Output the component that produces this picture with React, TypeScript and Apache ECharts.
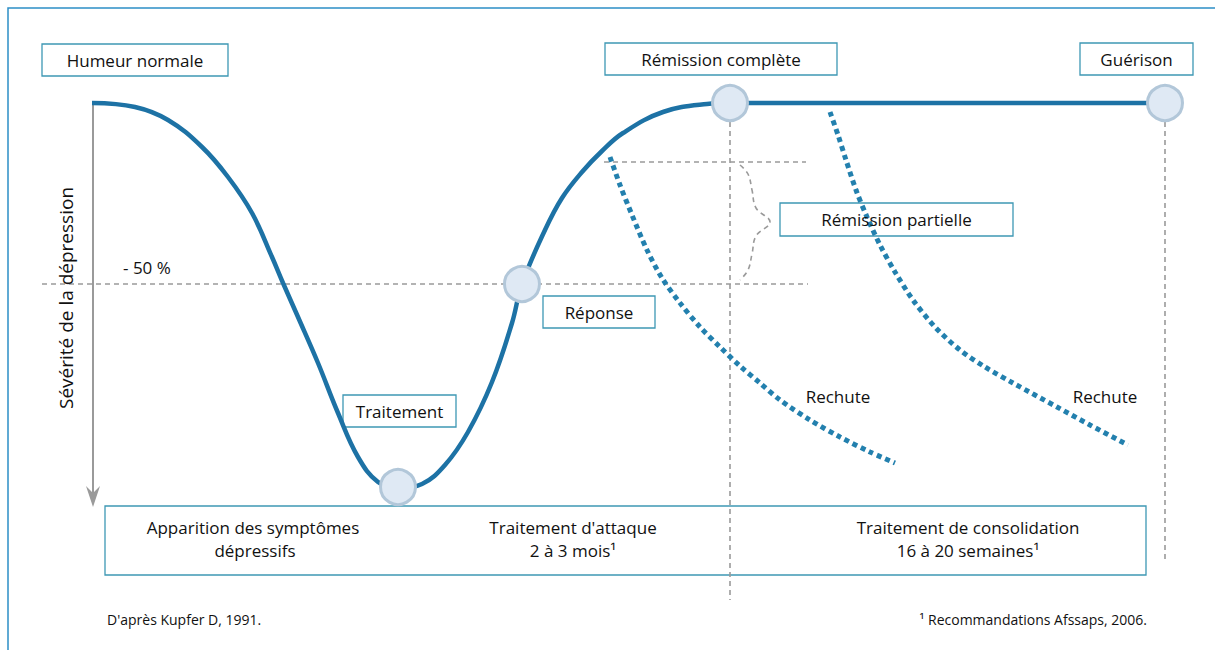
import React, { useEffect, useRef } from "react";
import * as echarts from "echarts";

// ---- Data (diagram coordinates: x 0..1215, y 0..650 top-down) ----
const severityCurve: [number, number][] = [
  [92, 103], [135, 107], [168, 120], [202, 147], [228, 177], [252, 213],
  [272, 257], [283, 283], [298, 317], [318, 363], [338, 413], [358, 457],
  [378, 482], [398, 488], [422, 484], [445, 465], [468, 432], [492, 382],
  [512, 323], [522, 284], [545, 230], [562, 198], [582, 172], [602, 151],
  [623, 133], [663, 112], [707, 104], [730, 103],
];
const plateau: [number, number][] = [[730, 103], [1165, 103]];
const relapseEarly: [number, number][] = [
  [610, 157], [620, 185], [632, 215], [647, 250], [662, 278], [680, 303],
  [700, 327], [720, 347], [740, 366], [760, 383], [780, 400], [810, 420],
  [840, 437], [870, 452], [895, 463],
];
const relapseLate: [number, number][] = [
  [830, 112], [838, 135], [846, 160], [856, 190], [867, 217], [880, 245],
  [895, 272], [913, 300], [935, 327], [960, 350], [985, 367], [1013, 383],
  [1057, 407], [1090, 425], [1128, 445],
];
const milestones: [number, number][] = [[398, 487], [522, 284], [730, 103], [1165, 103]];
const halfLine: [number, number][] = [[42, 284], [808, 284]];
const partialTop: [number, number][] = [[604, 162], [806, 162]];
const remissionVertical: [number, number][] = [[730, 122], [730, 600]];
const recoveryVertical: [number, number][] = [[1165, 122], [1165, 560]];
const brace: [number, number][] = [
  [740, 165], [748, 174], [752, 190], [756, 208], [770, 222],
  [756, 236], [752, 254], [748, 270], [740, 280],
];

const FONT = "'Open Sans', 'Noto Sans', sans-serif";
const BOX = "#3e98b4";
const GRAY = "#9a9a9a";
const INK = "#111111";

function box(x: number, y: number, w: number, h: number, text: string, size = 17): any[] {
  return [
    { type: "rect", shape: { x, y, width: w, height: h }, style: { fill: "none", stroke: BOX, lineWidth: 1.3 }, z: 1 },
    {
      type: "text", x: x + w / 2, y: y + h / 2, z: 5,
      style: { text, fill: INK, font: `${size}px ${FONT}`, textAlign: "center", textVerticalAlign: "middle" },
    },
  ];
}
function txt(x: number, y: number, text: string, size = 17, align = "center"): any {
  return {
    type: "text", x, y, z: 5,
    style: { text, fill: INK, font: `${size}px ${FONT}`, textAlign: align, textVerticalAlign: "middle" },
  };
}

export default function App() {
  const ref = useRef<HTMLDivElement>(null);
  useEffect(() => {
    document.body.style.margin = "0";
    const chart = echarts.init(ref.current!, null, { renderer: "svg" });
    const dashed = (data: [number, number][]) => ({
      type: "line", data, symbol: "none", silent: true, z: 2,
      lineStyle: { color: GRAY, width: 1.6, type: [5, 4] },
    });
    const dotted = (data: [number, number][]) => ({
      type: "line", data, symbol: "none", smooth: 0.3, silent: true, z: 3,
      lineStyle: { color: "#2380ae", width: 5, type: [5, 4], cap: "butt" },
    });
    chart.setOption({
      animation: false,
      backgroundColor: "#ffffff",
      grid: { left: 0, right: 0, top: 0, bottom: 0 },
      xAxis: { type: "value", min: 0, max: 1215, show: false },
      yAxis: { type: "value", min: 0, max: 650, inverse: true, show: false },
      series: [
        dashed(halfLine),
        dashed(partialTop),
        dashed(remissionVertical),
        dashed(recoveryVertical),
        { ...dashed(brace), smooth: 0.4 },
        dotted(relapseEarly),
        dotted(relapseLate),
        {
          type: "line", data: severityCurve, symbol: "none", smooth: 0.4, silent: true, z: 4,
          lineStyle: { color: "#1d72a5", width: 4.5 },
        },
        {
          type: "line", data: plateau, symbol: "none", silent: true, z: 4,
          lineStyle: { color: "#1d72a5", width: 4.5 },
        },
        {
          type: "scatter", data: milestones, symbol: "circle", symbolSize: 35, silent: true, z: 6,
          itemStyle: { color: "#dfe9f4", borderColor: "#b2c7d9", borderWidth: 3, opacity: 1 },
        },
      ],
      graphic: [
        { type: "rect", shape: { x: 8, y: 8, width: 1230, height: 680 }, style: { fill: "none", stroke: "#2d8ec6", lineWidth: 1.5 }, z: 0 },
        // y axis arrow
        { type: "line", shape: { x1: 93, y1: 102, x2: 93, y2: 495 }, style: { stroke: GRAY, lineWidth: 2 }, z: 1 },
        { type: "polygon", shape: { points: [[86, 486], [93, 493], [100, 486], [93, 507]] }, style: { fill: GRAY }, z: 1 },
        {
          type: "text", x: 66, y: 298, rotation: Math.PI / 2, z: 5,
          style: { text: "Sévérité de la dépression", fill: INK, font: `19px ${FONT}`, textAlign: "center", textVerticalAlign: "middle" },
        },
        txt(123, 267, "- 50 %", 17, "left"),
        ...box(42, 44, 186, 32, "Humeur normale"),
        ...box(605, 43, 232, 32, "Rémission complète"),
        ...box(1080, 43, 113, 32, "Guérison"),
        ...box(543, 296, 112, 32, "Réponse"),
        ...box(343, 395, 113, 32, "Traitement"),
        ...box(780, 203, 233, 33, "Rémission partielle"),
        txt(838, 396, "Rechute", 17),
        txt(1105, 396, "Rechute", 17),
        { type: "rect", shape: { x: 105, y: 506, width: 1041, height: 69 }, style: { fill: "none", stroke: BOX, lineWidth: 1.3 }, z: 1 },
        txt(253, 527, "Apparition des symptômes"),
        txt(255, 550, "dépressifs"),
        txt(573, 527, "Traitement d'attaque"),
        txt(573, 550, "2 à 3 mois¹"),
        txt(968, 527, "Traitement de consolidation"),
        txt(968, 550, "16 à 20 semaines¹"),
        txt(107, 619, "D'après Kupfer D, 1991.", 14, "left"),
        txt(1147, 619, "¹ Recommandations Afssaps, 2006.", 14, "right"),
      ],
    });
    return () => chart.dispose();
  }, []);
  return <div ref={ref} style={{ width: 1215, height: 650 }} />;
}
